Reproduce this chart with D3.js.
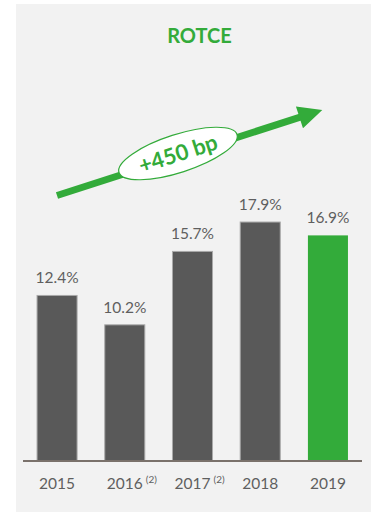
<!DOCTYPE html>
<html>
<head>
<meta charset="utf-8">
<script src="https://cdn.jsdelivr.net/npm/d3@7/dist/d3.min.js"></script>
<style>
  html, body { margin: 0; padding: 0; background: #ffffff; }
  svg { display: block; }
</style>
</head>
<body>
<svg id="chart" width="371" height="512"></svg>
<script>
// ROTCE by year, in percent
const years = ["2015", "2016", "2017", "2018", "2019"];
const notes = ["", "(2)", "(2)", "", ""];
const rotce = [12.4, 10.2, 15.7, 17.9, 16.9];
const valueLabels = ["12.4%", "10.2%", "15.7%", "17.9%", "16.9%"];
const title = "ROTCE";
const trendLabel = "+450 bp";

const GREEN = "#33ab3a";
const DARK = "#595959";
const TEXT = "#5f5f5f";
const FONT = "Lato, 'Open Sans', sans-serif";

const svg = d3.select("#chart");

// light panel behind the chart
svg.append("rect")
  .attr("x", 16).attr("y", 4)
  .attr("width", 355).attr("height", 508)
  .attr("fill", "#f2f2f2");

svg.append("text")
  .attr("x", 199.5).attr("y", 43)
  .attr("text-anchor", "middle")
  .attr("font-family", FONT)
  .attr("font-weight", 700)
  .attr("font-size", 20)
  .attr("fill", GREEN)
  .text(title);

const x = d3.scaleBand()
  .domain(years)
  .range([23, 362])
  .paddingInner(0.394)
  .paddingOuter(0.2);

const y = d3.scaleLinear()
  .domain([0, 20])
  .range([460.5, 193.5]);

const data = years.map((yr, i) => ({ year: yr, value: rotce[i], label: valueLabels[i], note: notes[i], last: i === years.length - 1 }));

// bars
svg.append("g")
  .selectAll("rect")
  .data(data)
  .join("rect")
  .attr("x", d => x(d.year) + 0.5)
  .attr("y", d => y(d.value) + 0.5)
  .attr("width", x.bandwidth() - 1)
  .attr("height", d => y(0) - y(d.value) - 0.5)
  .attr("fill", d => d.last ? GREEN : DARK)
  .attr("stroke", d => d.last ? "none" : "#a9a9a9")
  .attr("stroke-width", 1);

// value labels
svg.append("g")
  .selectAll("text")
  .data(data)
  .join("text")
  .attr("x", d => x(d.year) + x.bandwidth() / 2)
  .attr("y", d => y(d.value) - 11.7)
  .attr("text-anchor", "middle")
  .attr("font-family", FONT)
  .attr("font-size", 15.5)
  .attr("fill", TEXT)
  .text(d => d.label);

// baseline
svg.append("line")
  .attr("x1", 23).attr("x2", 362)
  .attr("y1", 461).attr("y2", 461)
  .attr("stroke", "#7a716b")
  .attr("stroke-width", 2);

// category labels with footnote marks
const cat = svg.append("g")
  .selectAll("g")
  .data(data)
  .join("g");

cat.append("text")
  .attr("class", "yr")
  .attr("x", d => x(d.year) + x.bandwidth() / 2)
  .attr("y", 488.5)
  .attr("text-anchor", "middle")
  .attr("font-family", FONT)
  .attr("font-size", 15.5)
  .attr("fill", TEXT)
  .text(d => d.year);

cat.filter(d => d.note)
  .append("text")
  .attr("x", function (d) {
    const w = this.parentNode.querySelector(".yr").getComputedTextLength();
    return x(d.year) + x.bandwidth() / 2 + w / 2 + 3;
  })
  .attr("y", 483)
  .attr("font-family", FONT)
  .attr("font-size", 10)
  .attr("fill", TEXT)
  .text(d => d.note);

// trend arrow
const tail = [57, 195.5];
const tip = [322.3, 110];
const ang = Math.atan2(tip[1] - tail[1], tip[0] - tail[0]);
const len = Math.hypot(tip[0] - tail[0], tip[1] - tail[1]);
const shaft = 3.5, headLen = 24, headHalf = 11.5;

const arrow = svg.append("g")
  .attr("transform", `translate(${tail[0]},${tail[1]}) rotate(${ang * 180 / Math.PI})`);

arrow.append("path")
  .attr("d", d3.line()([
    [0, -shaft], [len - headLen, -shaft], [len - headLen, -headHalf], [len, 0],
    [len - headLen, headHalf], [len - headLen, shaft], [0, shaft]
  ]) + "Z")
  .attr("fill", GREEN);

const badge = svg.append("g")
  .attr("transform", `translate(178,153.5) rotate(${ang * 180 / Math.PI})`);

badge.append("ellipse")
  .attr("rx", 62).attr("ry", 19)
  .attr("fill", "#ffffff")
  .attr("stroke", GREEN)
  .attr("stroke-width", 1.2);

badge.append("text")
  .attr("x", 0).attr("y", 8)
  .attr("text-anchor", "middle")
  .attr("font-family", FONT)
  .attr("font-weight", 700)
  .attr("font-size", 22)
  .attr("fill", GREEN)
  .text(trendLabel);
</script>
</body>
</html>
